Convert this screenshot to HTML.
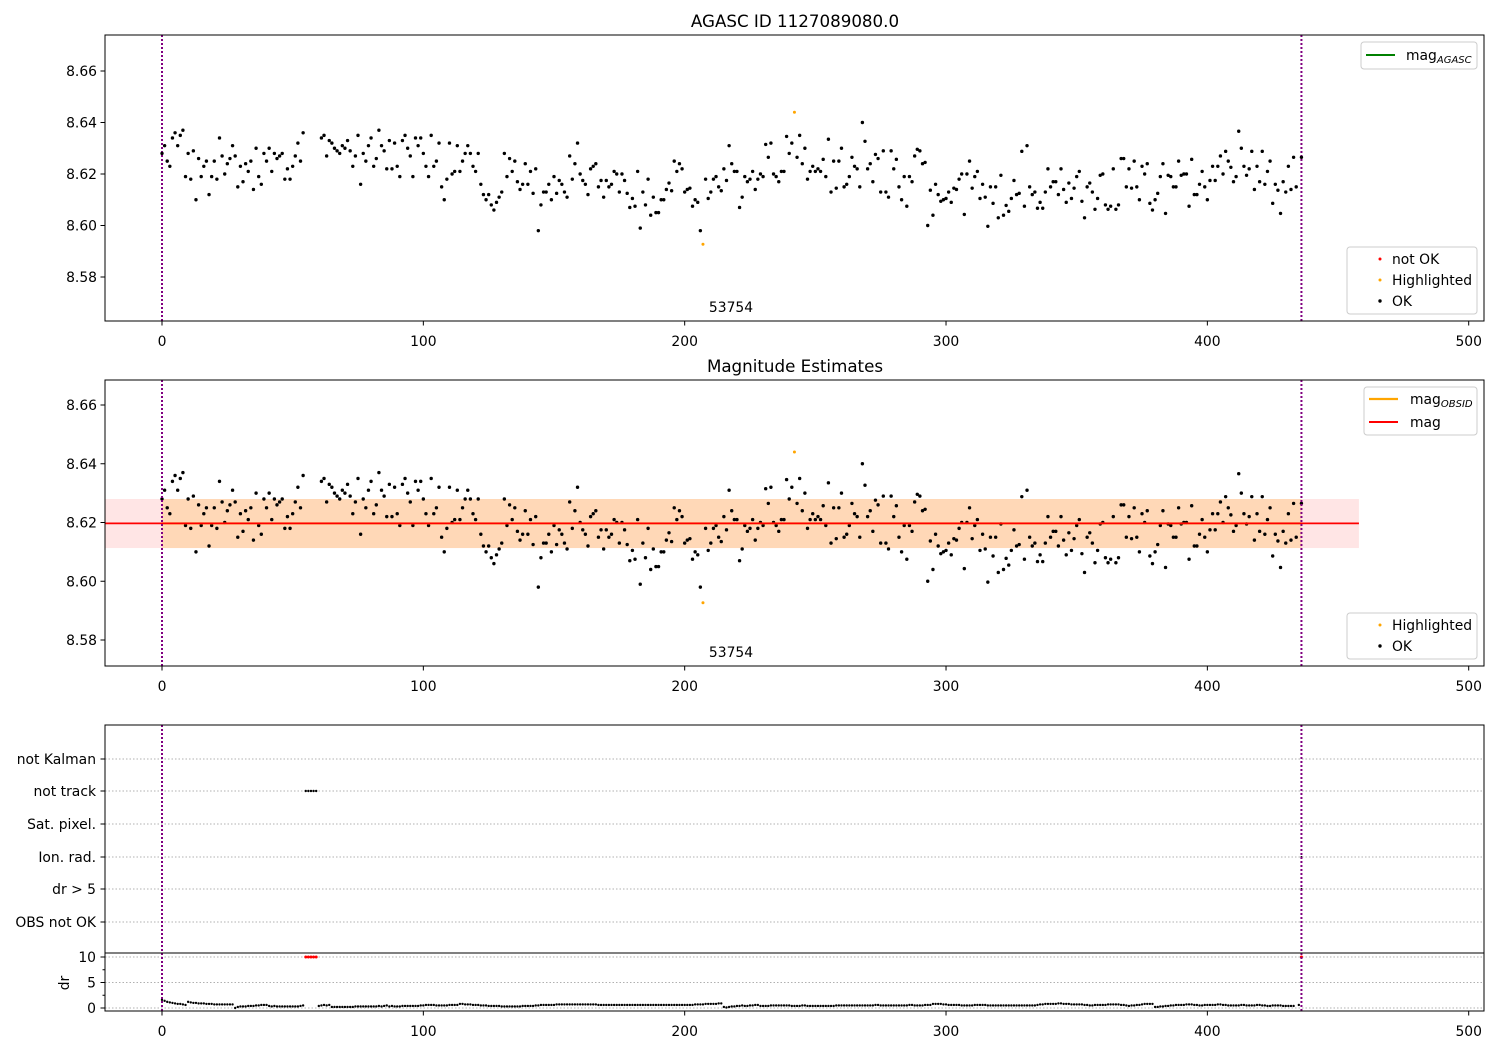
<!DOCTYPE html>
<html><head><meta charset="utf-8"><style>
body{margin:0;background:#fff;}
svg{display:block;font-family:"DejaVu Sans","Liberation Sans",sans-serif;}
</style></head><body>
<svg id="chart" width="1500" height="1050" viewBox="0 0 1500 1050" xmlns="http://www.w3.org/2000/svg">
<rect width="1500" height="1050" fill="#fff"/>
<g id="g"></g>
</svg>
<script>
// ---------- data ----------
const xTicks = [0,100,200,300,400,500];
const magTicksTop = [8.58,8.60,8.62,8.64,8.66];
const magTicksMid = [8.58,8.60,8.62,8.64,8.66];
const segA = [8.628,8.631,8.625,8.623,8.634,8.636,8.631,8.635,8.637,8.619,8.628,8.618,8.629,8.610,8.626,8.619,8.623,8.625,8.612,8.619,8.625,8.618,8.634,8.627,8.620,8.624,8.626,8.631,8.627,8.615,8.623,8.617,8.624,8.621,8.625,8.614,8.630,8.619,8.616,8.628,8.625,8.630,8.621,8.628,8.626,8.627,8.628,8.618,8.622,8.618,8.623,8.627,8.632,8.625,8.636];
const gapA = [null,null,null,null,null,null];
const segB = [8.634,8.635,8.627,8.633,8.632,8.630,8.629,8.628,8.631,8.630,8.633,8.629,8.623,8.627,8.635,8.616,8.628,8.625,8.631,8.634,8.623,8.626,8.637,8.631,8.629,8.622,8.633,8.622,8.632,8.623,8.619,8.633,8.635,8.630,8.627,8.619,8.634,8.631,8.634,8.628,8.623,8.619,8.635,8.623,8.625,8.632,8.615,8.610,8.618,8.632,8.620];
const segC = [8.621,8.631,8.621,8.625,8.628,8.631,8.628,8.623,8.621,8.628,
8.616,8.612,8.610,8.612,8.608,8.606,8.609,8.611,8.613,8.628,
8.619,8.626,8.621,8.625,8.617,8.614,8.616,8.624,8.616,8.621,
8.6125,8.622,8.598,8.608,8.613,8.613,8.616,8.610,8.619,8.6125,
8.6175,8.616,8.613,8.611,8.627,8.618,8.624,8.632,8.620,8.6175,
8.616,8.612,8.622,8.623,8.624,8.615,8.6175,8.611,8.6175,8.615,
8.616,8.621,8.620,8.613,8.620,8.6175,8.6125,8.607,8.6105,8.6075,
8.621,8.599,8.613,8.608,8.618,8.604,8.611,8.605,8.605,8.610,
8.610,8.614,8.6165,8.6135,8.625,8.621,8.624,8.622,8.613,8.614,
8.6145,8.6075,8.610,8.609,8.598,null,
8.618,8.6105,8.613,8.618,8.619,8.615,8.6135,8.622,8.6175,8.631,8.624,8.621,8.621,8.607,8.611,8.619,8.617];
const segD = [8.618,8.621,8.614,8.618,8.620,8.619,8.6315,8.6265,8.632,8.620,
8.619,8.617,8.621,8.621,8.6346,8.628,8.632,null,8.6265,8.635,
8.624,8.630,8.618,8.621,8.623,8.621,8.622,8.621,8.6257,8.619,
8.6335,8.613,8.625,8.6145,8.625,8.630,8.615,8.616,8.619,8.6265,
8.623,8.622,8.615,8.640,8.6327,8.622,8.624,8.617,8.6276,8.626,
8.613,8.629,8.613,8.611,8.629,8.622,8.6257,8.615,8.610,8.619,
8.6075,8.619,8.617,8.627,8.6296,8.629,8.624,8.6245,8.600,8.6137,
8.604,8.616,8.612,8.6094,8.610,8.6105,8.613,8.609,8.6145,8.614,
8.618,8.620,8.6043,8.620,8.625,8.6145,8.619,8.621,8.6105,8.616,
8.611,8.5997,8.615,8.6086,8.615,8.603,8.6195,8.604,8.6078,8.6055,
8.6105,8.6175,8.612,8.6125,8.6288,8.6075,8.631,8.615,8.612,8.613,
8.6067,8.609,8.6067];
const segE = [8.613,8.622,8.615,8.617,8.617,8.612,8.622,8.614,8.609,8.6165,
8.6105,8.6145,8.619,8.621,8.6094,8.603,8.615,8.6165,8.613,8.6063,
8.6105,8.6195,8.620,8.608,8.6063,8.6075,8.622,8.6063,8.608,8.626,
8.626,8.615,8.622,8.6145,8.625,8.615,8.610,8.623,8.620,8.624,
8.6086,8.606,8.610,8.6125,8.619,8.624,8.6047,8.6195,8.619,8.615,
8.615,8.625,8.6195,8.620,8.620,8.6075,8.6257,8.612,8.612,8.616,
8.621,8.615,8.610,8.6175,8.623,8.6175,8.623,8.627,8.620,8.6288,
8.625,8.6226,8.617,8.619,8.6366,8.630,8.623,8.6195,8.622,8.6288,
8.614,8.623,8.617,8.6288,8.616,8.621,8.625,8.6086,8.616,8.6137,
8.6047,8.617,8.613,8.623,8.614,8.6265,8.615,null,8.6265];
const magOK = segA.concat(gapA, segB, segC, segD, segE);
const hlIdx = [207, 242];
const hlMag = [8.5927, 8.644];
const magMean = 8.6197;
const magBandLo = 8.6113;
const magBandHi = 8.6280;
const magRange = [-22, 458];
const obsRange = [0, 436];
const dr = [1.6,1.4,1.2,1.1,1.0,0.9,0.8,0.8,0.7,0.6,
1.2,1.1,1.0,1.0,0.9,0.9,0.9,0.8,0.8,0.8,
0.7,0.7,0.7,0.7,0.7,0.7,0.7,0.7,0.0,0.2,
0.3,0.3,0.3,0.4,0.4,0.4,0.5,0.5,0.6,0.6,
0.6,0.4,0.3,0.4,0.3,0.3,0.3,0.3,0.3,0.3,
0.3,0.3,0.3,0.4,0.5,null,null,null,null,null,
0.4,0.5,0.6,0.5,0.6,0.2,0.2,0.2,0.2,0.2,
0.2,0.2,0.2,0.2,0.3,0.3,0.3,0.3,0.3,0.3,
0.3,0.3,0.3,0.4,0.3,0.4,0.5,0.3,0.4,0.3,
0.3,0.3,0.4,0.4,0.4,0.4,0.4,0.4,0.4,0.5,
0.5,0.6,0.6,0.6,0.6,0.5,0.5,0.5,0.5,0.5,
0.6,0.6,0.6,0.6,0.8,0.8,0.7,0.7,0.7,0.6,
0.6,0.6,0.5,0.5,0.5,0.4,0.4,0.4,0.4,0.4,
0.3,0.3,0.3,0.3,0.3,0.3,0.3,0.3,0.4,0.4,
0.4,0.4,0.4,0.5,0.5,0.6,0.6,0.6,0.6,0.6,
0.6,0.7,0.7,0.7,0.7,0.7,0.7,0.7,0.7,0.7,
0.7,0.7,0.7,0.7,0.7,0.7,0.7,0.6,0.6,0.6,
0.6,0.6,0.6,0.6,0.6,0.6,0.6,0.6,0.6,0.6,
0.6,0.6,0.6,0.6,0.6,0.6,0.6,0.6,0.6,0.6,
0.6,0.6,0.6,0.6,0.6,0.6,0.6,0.6,0.6,0.6,
0.6,0.6,0.6,0.6,0.7,0.7,0.7,0.7,0.8,0.8,
0.8,0.8,0.8,0.9,0.9,0.2,0.1,0.2,0.3,0.3,
0.4,0.4,0.5,0.4,0.4,0.5,0.5,0.6,0.6,0.4,
0.4,0.4,0.4,0.5,0.5,0.5,0.5,0.5,0.5,0.5,
0.5,0.4,0.4,0.4,0.4,0.5,0.5,0.4,0.4,0.4,
0.4,0.4,0.4,0.4,0.4,0.4,0.4,0.4,0.5,0.5,
0.5,0.5,0.5,0.5,0.5,0.5,0.5,0.5,0.5,0.5,
0.5,0.5,0.5,0.6,0.6,0.5,0.5,0.5,0.5,0.5,
0.5,0.5,0.5,0.5,0.5,0.5,0.6,0.6,0.5,0.5,
0.5,0.5,0.6,0.6,0.6,0.8,0.8,0.8,0.8,0.7,
0.7,0.6,0.6,0.6,0.6,0.6,0.5,0.5,0.5,0.5,
0.5,0.6,0.6,0.6,0.6,0.6,0.5,0.5,0.5,0.5,
0.5,0.5,0.5,0.5,0.5,0.5,0.5,0.5,0.5,0.5,
0.5,0.5,0.5,0.5,0.5,0.6,0.7,0.7,0.8,0.8,
0.8,0.8,0.8,0.9,0.9,0.8,0.8,0.8,0.7,0.7,
0.7,0.7,0.7,0.6,0.6,0.5,0.5,0.6,0.6,0.6,
0.6,0.6,0.7,0.7,0.7,0.7,0.7,0.6,0.6,0.5,
0.4,0.5,0.5,0.6,0.6,0.7,0.8,0.8,0.8,0.8,
0.2,0.2,0.3,0.3,0.4,0.4,0.5,0.5,0.6,0.6,
0.6,0.6,0.7,0.7,0.7,0.6,0.6,0.5,0.5,0.6,
0.6,0.6,0.6,0.6,0.7,0.7,0.6,0.6,0.5,0.5,
0.5,0.5,0.5,0.6,0.6,0.5,0.5,0.5,0.5,0.6,
0.6,0.5,0.5,0.4,0.4,0.5,0.5,0.5,0.5,0.4,
0.4,0.4,0.4,0.4,null,0.6];
const drBadIdx = [55,56,57,58,59,436];
const drBadVal = [10,10,10,10,10,10];
const drTicks = [0,5,10];
const flagCats = ["OBS not OK","dr > 5","Ion. rad.","Sat. pixel.","not track","not Kalman"];
const notTrackIdx = [55,56,57,58,59];
const ionRadIdx = [436];
const dr5Idx = [436];

// ---------- helpers ----------
const NS = "http://www.w3.org/2000/svg";
const G = document.getElementById('g');
function mk(tag, at, parent){ const e=document.createElementNS(NS,tag); for(const k in at) e.setAttribute(k,at[k]); (parent||G).appendChild(e); return e; }
const X0=105, X1=1484;
const FS=13.9;
function sx(i){ return 162 + i*2.6134; }
function syTop(m){ return 174 - (m-8.62)*2575; }
function syMid(m){ return 522.5 - (m-8.62)*2937.5; }
function syDr(d){ return 1008 - d*5.1; }

function xAxis(yb, labelY){
  xTicks.forEach(t=>{
    const x=sx(t);
    const tk=mk('line',{x1:x,x2:x,y1:yb,y2:yb+4.5,stroke:'#000','stroke-width':1});
    
    
    const tl=mk('text',{x:x,y:labelY,'font-size':FS,'text-anchor':'middle',fill:'#000'});
    tl.textContent=t;
    
    
  });
}
function yAxis(ticks, sy, fmt){
  ticks.forEach(t=>{
    const y=sy(t);
    const tk=mk('line',{x1:X0-4.5,x2:X0,y1:y,y2:y,stroke:'#000','stroke-width':1});
    
    
    const tl=mk('text',{x:X0-8,y:y+5,'font-size':FS,'text-anchor':'end',fill:'#000'});
    tl.textContent=fmt(t);
    
    
  });
}
function vlines(y0,y1){
  [0,436].forEach(i=>{
    const l=mk('line',{x1:sx(i),x2:sx(i),y1:y0,y2:y1,stroke:'#800080','stroke-width':2,'stroke-dasharray':'2,2'});
    
    
  });
}
function frame(y0,y1,name){
  const r=mk('rect',{x:X0,y:y0,width:X1-X0,height:y1-y0,fill:'none',stroke:'#000','stroke-width':1});
  
  
}
function points(sy){
  magOK.forEach((m,i)=>{
    if(m===null) return;
    const c=mk('circle',{cx:sx(i),cy:sy(m),r:1.7,fill:'#000'});
    
    
  });
  hlIdx.forEach((i,k)=>{
    const c=mk('circle',{cx:sx(i),cy:sy(hlMag[k]),r:1.5,fill:'#ffa500'});
    
    
  });
}
function txt(x,y,s,size,anchor,name){
  const t=mk('text',{x:x,y:y,'font-size':size,'text-anchor':anchor||'start',fill:'#000'});
  t.textContent=s;
  
  
  return t;
}
function legendBox(x,y,w,h,name){
  const r=mk('rect',{x:x,y:y,width:w,height:h,rx:3,fill:'#fff','fill-opacity':0.8,stroke:'#ccc','stroke-width':1});
  
  
}

// ---------- top panel ----------
txt(795,27,'AGASC ID 1127089080.0',16.7,'middle','top-title');
yAxis(magTicksTop, syTop, t=>t.toFixed(2));
xAxis(321,346);
vlines(35,321);
points(syTop);
txt(731,312,'53754',FS,'middle','top-obsid-label');
frame(35,321,'top-plot-area');
legendBox(1361,42,116,27,'top-legend-agasc');
mk('line',{x1:1366,x2:1395,y1:55,y2:55,stroke:'#008000','stroke-width':2});
{const t=txt(1406,60,'mag',FS,'start','legend-mag-agasc'); const s=document.createElementNS(NS,'tspan'); s.setAttribute('font-size',10); s.setAttribute('font-style','italic'); s.setAttribute('dy',3); s.textContent='AGASC'; t.appendChild(s);}
legendBox(1347,247,130,67,'top-legend-status');
mk('circle',{cx:1380,cy:259,r:1.5,fill:'#f00'});
txt(1392,264,'not OK',FS,'start','legend-not-ok');
mk('circle',{cx:1380,cy:280,r:1.5,fill:'#ffa500'});
txt(1392,285,'Highlighted',FS,'start','legend-highlighted');
mk('circle',{cx:1380,cy:301,r:1.7,fill:'#000'});
txt(1392,306,'OK',FS,'start','legend-ok');

// ---------- middle panel ----------
txt(795,372,'Magnitude Estimates',16.7,'middle','middle-title');
{const b=mk('rect',{x:sx(magRange[0]),y:syMid(magBandHi),width:sx(magRange[1])-sx(magRange[0]),height:syMid(magBandLo)-syMid(magBandHi),fill:'#ff0000','fill-opacity':0.1});


const b2=mk('rect',{x:sx(obsRange[0]),y:syMid(magBandHi),width:sx(obsRange[1])-sx(obsRange[0]),height:syMid(magBandLo)-syMid(magBandHi),fill:'#ffa500','fill-opacity':0.2});

}
points(syMid);
{const l1=mk('line',{x1:sx(obsRange[0]),x2:sx(obsRange[1]),y1:syMid(magMean),y2:syMid(magMean),stroke:'#ffa500','stroke-width':2});


const l2=mk('line',{x1:sx(magRange[0]),x2:sx(magRange[1]),y1:syMid(magMean),y2:syMid(magMean),stroke:'#f00','stroke-width':1.8});

}
yAxis(magTicksMid, syMid, t=>t.toFixed(2));
xAxis(666,691);
vlines(380,666);
txt(731,657,'53754',FS,'middle','middle-obsid-label');
frame(380,666,'middle-plot-area');
legendBox(1364,387,113,48,'middle-legend-lines');
mk('line',{x1:1369,x2:1398,y1:399,y2:399,stroke:'#ffa500','stroke-width':2.2});
{const t=txt(1410,404,'mag',FS,'start','legend-mag-obsid'); const s=document.createElementNS(NS,'tspan'); s.setAttribute('font-size',10); s.setAttribute('font-style','italic'); s.setAttribute('dy',3); s.textContent='OBSID'; t.appendChild(s);}
mk('line',{x1:1369,x2:1398,y1:422,y2:422,stroke:'#f00','stroke-width':2});
txt(1410,427,'mag',FS,'start','legend-mag');
legendBox(1347,613,130,46,'middle-legend-status');
mk('circle',{cx:1380,cy:625,r:1.5,fill:'#ffa500'});
txt(1392,630,'Highlighted',FS,'start','legend-highlighted-2');
mk('circle',{cx:1380,cy:646,r:1.7,fill:'#000'});
txt(1392,651,'OK',FS,'start','legend-ok-2');

// ---------- bottom panel ----------
const catY = [922,889,857,824,791,759];
flagCats.forEach((c,k)=>{
  const y=catY[k];
  const gl=mk('line',{x1:X0,x2:X1,y1:y,y2:y,stroke:'#b0b0b0','stroke-width':1,'stroke-dasharray':'1.5,2'});
  
  
  mk('line',{x1:X0-4.5,x2:X0,y1:y,y2:y,stroke:'#000'});
  txt(X0-9,y+5,c,FS,'end','flag-label');
});
drTicks.forEach(d=>{
  const y=syDr(d);
  const gl=mk('line',{x1:X0,x2:X1,y1:y,y2:y,stroke:'#b0b0b0','stroke-width':1,'stroke-dasharray':'1.5,2'});
  
  
  mk('line',{x1:X0-4.5,x2:X0,y1:y,y2:y,stroke:'#000'});
  txt(X0-9,y+5,String(d),FS,'end','dr-tick-label');
});
[2.5,7.5].forEach(d=>{ mk('line',{x1:X0-2.5,x2:X0,y1:syDr(d),y2:syDr(d),stroke:'#000'}); });
{const t=mk('text',{x:0,y:0,'font-size':FS,'text-anchor':'middle',transform:'translate(69,983) rotate(-90)'}); t.textContent='dr';  }
dr.forEach((d,i)=>{
  if(d===null) return;
  const c=mk('circle',{cx:sx(i),cy:syDr(d),r:1.2,fill:'#000'});
  
  
});
drBadIdx.forEach((i,k)=>{
  const c=mk('circle',{cx:sx(i),cy:syDr(drBadVal[k]),r:1.5,fill:'#f00'});
  
  
});
notTrackIdx.forEach(i=>{
  const c=mk('circle',{cx:sx(i),cy:catY[4],r:1.2,fill:'#000'});
  
  
});
ionRadIdx.forEach(i=>{
  const c=mk('circle',{cx:sx(i),cy:catY[2],r:1,fill:'#000'});
  
  
});
dr5Idx.forEach(i=>{
  const c=mk('circle',{cx:sx(i),cy:catY[1],r:1,fill:'#000'});
  
  
});
vlines(725,1011);
mk('line',{x1:X0,x2:X1,y1:953,y2:953,stroke:'#000','stroke-width':1});
xAxis(1011,1036);
frame(725,1011,'bottom-plot-area');
</script>
</body></html>
